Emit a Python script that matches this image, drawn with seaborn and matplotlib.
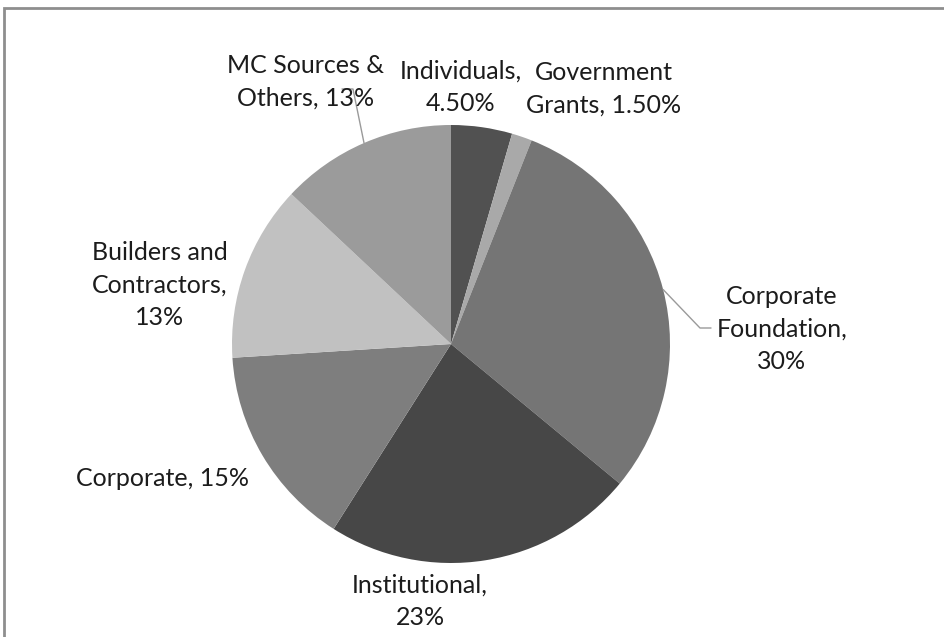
import numpy as np
import matplotlib
matplotlib.use("Agg")
import matplotlib.pyplot as plt
import seaborn as sns

# Funding sources, clockwise from 12 o'clock
categories = ["Individuals", "Government Grants", "Corporate Foundation",
              "Institutional", "Corporate", "Builders and Contractors",
              "MC Sources & Others"]
shares = [4.5, 1.5, 30, 23, 15, 13, 13]          # percent
label_layouts = ["Individuals,\n{}", "Government\nGrants, {}",
                 "Corporate\nFoundation,\n{}", "Institutional,\n{}",
                 "Corporate, {}", "Builders and\nContractors,\n{}",
                 "MC Sources &\nOthers, {}"]
greys = ["#515151", "#a9a9a9", "#757575", "#474747", "#7e7e7e",
         "#c1c1c1", "#9b9b9b"]

sns.set_theme(style="white")
plt.rcParams["font.family"] = ["Lato", "DejaVu Sans"]

W, H = 944, 637
fig = plt.figure(figsize=(W / 100, H / 100), dpi=100)
ax = fig.add_axes([0, 0, 1, 1])

cx, cy, r = 451, H - 344, 219
wedges, _ = ax.pie(shares, colors=greys, startangle=90, counterclock=False,
                   center=(cx, cy), radius=r, frame=True,
                   wedgeprops=dict(linewidth=0))
ax.set_xlim(0, W)
ax.set_ylim(0, H)
ax.axis("off")


def fmt(v):
    return f"{v:.2f}%" if v != int(v) else f"{int(v)}%"


labels = [t.format(fmt(v)) for t, v in zip(label_layouts, shares)]

# label anchor points (pixel coordinates, y from top)
spots = [(461, 87), (604, 89), (782, 329), (420, 601), (162, 478),
         (160, 285), (306, 82)]
for lab, (x, y) in zip(labels, spots):
    ax.text(x, H - y, lab, ha="center", va="center", fontsize=18,
            color="#1c1c1c", linespacing=1.5)


def edge_point(w):
    mid = np.deg2rad((w.theta1 + w.theta2) / 2)
    return cx + r * np.cos(mid), cy + r * np.sin(mid)


# leader lines for the two outer labels
ex, ey = edge_point(wedges[2])
ax.plot([ex, 700, 711], [ey, H - 328, H - 328], color="#9a9a9a", lw=1)
ex, ey = edge_point(wedges[6])
ax.plot([ex, 353, 342], [ey, H - 89, H - 89], color="#9a9a9a", lw=1)

# chart-area border
ax.plot([4, 4, W + 5], [-5, H - 8, H - 8], color="#8e8e8e", lw=2,
        solid_joinstyle="miter")

fig.savefig("out.png", dpi=100, facecolor="white")
